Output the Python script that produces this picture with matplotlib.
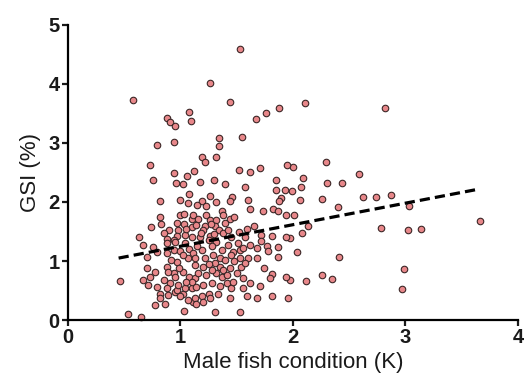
import numpy as np
import matplotlib
matplotlib.use("Agg")
import matplotlib.pyplot as plt

# Condicao corporal (K) e GSI (%) de cada macho
k_values = [
    0.58, 0.88, 0.91, 0.95, 0.79, 0.94, 1.53, 1.26, 1.44, 1.08,
    1.09, 1.67, 1.76, 1.88, 2.11, 1.34, 1.34, 1.55, 2.82,
    2.29, 2.30, 2.44, 2.59, 2.26, 2.40, 2.62, 2.74, 2.87, 3.03,
    2.78, 3.02, 3.14, 3.66, 2.41, 2.26, 2.35, 2.99, 2.97,
    2.00, 2.09, 2.07, 1.99, 2.06, 2.01, 2.13, 2.08, 1.97, 2.04,
    2.12, 1.97, 1.96,
    0.73, 0.94, 1.06, 0.76, 0.96, 1.08, 0.82, 1.00, 1.07, 0.82,
    0.83, 0.74, 0.63, 1.00, 1.03, 1.10, 0.97, 1.03, 0.90, 0.85,
    0.98, 1.10, 0.97, 1.04, 0.88, 1.10,
    0.67, 0.76, 0.88, 0.94, 0.70, 0.79, 0.88, 0.94, 0.46, 0.70,
    0.77, 0.73, 0.71, 0.79, 0.67, 0.88, 0.94, 0.85, 0.91, 0.82,
    0.89, 0.95, 0.97,
    0.95, 1.04, 1.00, 1.08, 0.92, 1.07, 1.13, 0.89, 0.95, 1.02,
    1.08, 0.88, 0.97, 1.02, 1.10, 0.82, 0.77, 0.86, 1.03, 0.53,
    0.65, 1.13, 1.11,
    1.19, 1.22, 1.32, 1.52, 1.62, 1.71, 1.95, 1.17, 1.85, 1.26,
    1.57, 1.46, 1.44, 1.60, 1.85, 1.93, 1.89, 1.88, 1.19, 1.23,
    1.62, 1.73, 1.82, 1.87, 1.94, 1.37, 1.38, 1.11, 1.16, 1.23,
    1.26, 1.32, 1.44, 1.48, 1.14, 1.22, 1.31, 1.40, 1.20, 1.34,
    1.38, 1.52, 1.59, 1.65, 1.72, 1.81, 1.94, 1.17, 1.26, 1.57,
    1.72, 1.77, 1.51, 1.53, 1.68, 1.68, 1.87, 1.87, 1.74, 1.81,
    1.80, 1.94, 1.71, 1.59, 1.44,
    1.25, 1.32, 1.56, 1.47, 1.62, 1.78, 1.11, 1.19, 1.22, 1.29,
    1.37, 1.35, 1.53, 1.60, 1.20, 1.31, 1.35, 1.38, 1.44, 1.54,
    1.57, 1.16, 1.23, 1.32, 1.37, 1.41, 1.50, 1.56, 1.62, 1.56,
    1.81, 1.68, 1.10, 1.14, 1.20, 1.13, 1.19, 1.25, 1.14, 1.20,
    1.31, 1.53, 1.00, 1.07, 1.26, 1.04, 1.41,
    1.28, 1.15, 1.42, 1.45, 1.40, 1.25, 1.05, 1.28, 1.35, 1.45,
    1.48, 1.18, 1.30, 1.05, 1.13, 1.02, 0.99, 1.28, 1.47, 1.33,
    1.42, 1.27, 1.15, 1.32, 1.40, 1.12, 1.02, 1.30, 0.98, 1.45,
]
gsi_values = [
    3.73, 3.42, 3.36, 3.29, 2.96, 3.02, 4.59, 4.01, 3.69, 3.53,
    3.37, 3.41, 3.50, 3.59, 3.67, 3.08, 2.94, 3.10, 3.59,
    2.67, 2.33, 2.33, 2.47, 2.05, 1.92, 2.08, 2.09, 2.11, 1.93,
    1.56, 1.52, 1.54, 1.68, 1.07, 0.77, 0.69, 0.86, 0.53,
    2.60, 2.40, 2.25, 2.19, 2.03, 1.78, 1.60, 1.48, 1.39, 1.15,
    0.67, 0.68, 0.37,
    2.63, 2.49, 2.44, 2.37, 2.32, 2.14, 2.02, 2.04, 1.99, 1.75,
    1.63, 1.57, 1.40, 1.78, 1.80, 1.72, 1.65, 1.63, 1.53, 1.47,
    1.53, 1.57, 1.42, 1.44, 1.38, 1.40,
    1.27, 1.24, 1.30, 1.36, 1.07, 1.16, 1.13, 1.19, 0.67, 0.88,
    0.82, 0.73, 0.59, 0.56, 0.68, 0.90, 0.79, 0.68, 0.62, 0.45,
    0.42, 0.48, 0.99,
    1.33, 1.30, 1.17, 1.21, 1.02, 1.05, 0.93, 0.82, 0.73, 0.82,
    0.73, 0.54, 0.51, 0.44, 0.54, 0.38, 0.25, 0.27, 0.15, 0.11,
    0.05, 0.71, 0.31,
    2.76, 2.67, 2.77, 2.54, 2.50, 2.57, 2.63, 2.34, 2.37, 2.10,
    2.25, 2.09, 2.01, 2.04, 2.21, 2.20, 2.06, 2.01, 2.01, 1.93,
    1.88, 1.84, 1.88, 1.84, 1.78, 1.84, 1.78, 1.78, 1.72, 1.78,
    1.69, 1.69, 1.72, 1.75, 1.61, 1.59, 1.59, 1.64, 1.53, 1.53,
    1.48, 1.50, 1.55, 1.59, 1.44, 1.42, 1.40, 1.41, 1.42, 1.40,
    1.34, 1.25, 1.30, 1.19, 1.22, 1.06, 1.24, 1.07, 0.88, 0.78,
    0.71, 0.73, 0.58, 0.40, 0.37,
    1.36, 1.33, 1.22, 1.16, 1.27, 1.17, 1.13, 1.19, 1.05, 1.10,
    1.19, 1.05, 1.06, 1.05, 0.90, 0.96, 0.90, 0.85, 0.88, 0.90,
    0.96, 0.79, 0.77, 0.79, 0.73, 0.76, 0.79, 0.71, 0.62, 0.55,
    0.40, 0.37, 0.65, 0.56, 0.59, 0.37, 0.40, 0.44, 0.28, 0.31,
    0.14, 0.14, 0.41, 0.34, 0.38, 0.55, 0.62,
    1.25, 1.25, 1.28, 1.40, 1.02, 0.95, 0.65, 0.62, 0.58, 0.55,
    1.00, 1.48, 1.46, 1.55, 1.05, 1.10, 0.88, 0.85, 0.65, 0.45,
    1.52, 1.62, 1.95, 2.00, 2.30, 2.52, 2.30, 2.38, 0.60, 1.10,
]

# Reta de regressao linear (extremos)
fit_k = [0.45, 3.63]
fit_gsi = [1.05, 2.21]

x_ticks = [0, 1, 2, 3, 4]
y_ticks = [0, 1, 2, 3, 4, 5]

plt.rcParams['font.family'] = ['Liberation Sans', 'DejaVu Sans']

fig = plt.figure(figsize=(5.25, 3.88), dpi=100)
ax = fig.add_axes([0.1295, 0.175, 0.857, 0.761])

ax.scatter(k_values, gsi_values, s=22, facecolor='#e8878a',
           edgecolor='#3b2626', linewidth=0.8, zorder=2, clip_on=False)
ax.plot(fit_k, fit_gsi, color='black', lw=2.3, linestyle=(0, (3.2, 1.6)),
        zorder=3)

ax.set_xlim(0, 4)
ax.set_ylim(0, 5)
ax.set_xticks(x_ticks)
ax.set_yticks(y_ticks)

for side in ['top', 'right']:
    ax.spines[side].set_visible(False)
for side in ['left', 'bottom']:
    ax.spines[side].set_linewidth(1.6)

ax.tick_params(direction='out', length=4, width=1.6, labelsize=14.5,
               pad=2, colors='#1a1a1a')
for lab in ax.get_xticklabels() + ax.get_yticklabels():
    lab.set_fontweight('bold')

ax.set_xlabel('Male fish condition (K)', fontsize=16, labelpad=3,
              color='#1a1a1a')
ax.set_ylabel('GSI (%)', fontsize=16, labelpad=5, color='#1a1a1a')

fig.savefig('out.png', dpi=100)
